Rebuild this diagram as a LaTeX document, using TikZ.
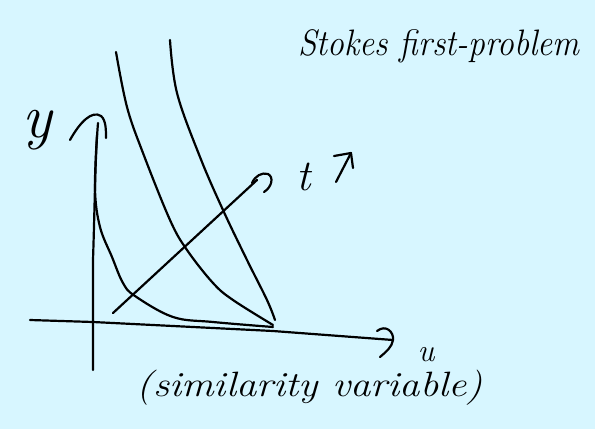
\documentclass[tikz,border=0pt]{standalone}
\usepackage{graphicx}
\definecolor{bg}{RGB}{215,246,255}
\tikzset{
  ink/.style={line width=2.2pt, line cap=round, line join=round, draw=black},
  hw/.style={font=\itshape, inner sep=0pt},
}
\begin{document}
\begin{tikzpicture}[x=1pt,y=-1pt]
\fill[bg] (0,0) rectangle (595,429);
\useasboundingbox (0,0) rectangle (595,429);
% coordinates
\coordinate (ytop) at (98,123);
\coordinate (ybot) at (93,370);
\coordinate (xleft) at (30,320);
\coordinate (xtip) at (393,340);
\coordinate (tstart) at (113,313);
\coordinate (ttip) at (257,180);
% y axis
\draw[ink] (ybot) -- (93,260) .. controls (95,200) and (95,160) .. (ytop);
\draw[ink] (70,140) .. controls (80,122) and (92,110) .. (101,116) .. controls (106,120) and (106,130) .. (106,138);
% x axis
\draw[ink] (xleft) -- (93,322) -- (273,331) -- (xtip);
\draw[ink] (377,331) .. controls (386,324) and (394,332) .. (393,340) .. controls (392,347) and (386,352) .. (380,357);
% curves
\draw[ink] plot[smooth, tension=0.6] coordinates {(97,135) (95,190) (100,227) (112,257) (123,283) (135,296) (173,317) (213,322) (273,327)};
\draw[ink] plot[smooth, tension=0.6] coordinates {(116,52) (127,107) (143,153) (170,220) (187,250) (213,283) (233,300) (273,325)};
\draw[ink] plot[smooth, tension=0.6] coordinates {(170,40) (177,93) (200,157) (223,210) (247,260) (267,300) (275,320)};
% t arrow
\draw[ink] (tstart) -- (ttip);
\draw[ink] (252,183) .. controls (255,176) and (262,172) .. (268,174) .. controls (274,177) and (272,187) .. (264,192);
% small up-right arrow
\coordinate (sa) at (336,182);
\coordinate (sb) at (351,153);
\draw[ink] (sa) -- (sb);
\draw[ink] (334,156) -- (sb) -- (353,168);
% labels
\node[hw, font=\itshape\fontsize{62}{64}\selectfont] (ylab) at (37,130) {y};
\node[hw, font=\itshape\fontsize{44}{46}\selectfont] (tlab) at (304,177) {t};
\node[hw, font=\itshape\fontsize{32}{34}\selectfont] (ulab) at (426,355) {u};
\node[hw] (title) at (439,46) {\scalebox{1.05}[1.15]{\fontsize{32}{34}\selectfont Stokes first-problem}};
\node[hw] (sim) at (310,388) {\scalebox{1.27}[1.1]{\fontsize{32}{34}\selectfont (similarity variable)}};
\end{tikzpicture}
\end{document}
